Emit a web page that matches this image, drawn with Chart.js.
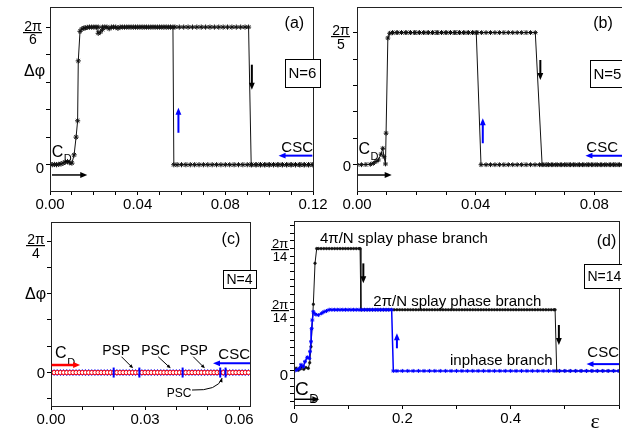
<!DOCTYPE html>
<html>
<head>
<meta charset="utf-8">
<title>Δφ versus ε for N = 6, 5, 4, 14</title>
<script src="https://cdn.jsdelivr.net/npm/chart.js@4.4.1/dist/chart.umd.min.js"></script>
<style>
  html, body { margin: 0; padding: 0; background: #fff; }
  body { width: 622px; height: 429px; overflow: hidden; position: relative; }
  canvas { position: absolute; left: 0; top: 0; }
</style>
</head>
<body>
<canvas id="panelA" width="640" height="429"></canvas>
<canvas id="panelB" width="640" height="429"></canvas>
<canvas id="panelC" width="640" height="429"></canvas>
<canvas id="panelD" width="640" height="429"></canvas>
<script>
// ---------- (a) N = 6 : forward sweep (increasing ε) ----------
const epsA_fwd = [
  0, 0.001, 0.002, 0.003, 0.004, 0.005, 0.006, 0.007, 0.008, 0.009, 0.010,
  0.011, 0.0119, 0.0126, 0.0129, 0.0137, 0.0145, 0.0155, 0.017, 0.019, 0.021,
  0.022, 0.023, 0.024, 0.025, 0.027, 0.029, 0.031, 0.033,
  0.035, 0.037, 0.039, 0.041, 0.043, 0.045, 0.047, 0.049, 0.051, 0.053,
  0.055, 0.057, 0.059, 0.061, 0.063, 0.065, 0.067, 0.069, 0.071, 0.073,
  0.075, 0.077, 0.079, 0.081, 0.083, 0.085, 0.087, 0.089, 0.0906,
  0.0918, 0.094, 0.096, 0.098, 0.100, 0.102, 0.104, 0.106, 0.108, 0.110,
  0.112, 0.114, 0.116, 0.118, 0.120
];
const phiA_fwd = [
  0.004, 0, 0.002, 0, 0.003, 0.006, 0.012, 0.020, 0.024, 0.015, 0.012,
  0.075, 0.21, 0.334, 0.79, 1.015, 1.032, 1.040, 1.045, 1.047, 1.047,
  1.000, 1.010, 1.030, 1.047, 1.035, 1.047, 1.038, 1.047,
  1.047, 1.047, 1.047, 1.047, 1.047, 1.047, 1.047, 1.047, 1.047, 1.047,
  1.047, 1.047, 1.047, 1.047, 1.047, 1.047, 1.047, 1.047, 1.047, 1.047,
  1.047, 1.047, 1.047, 1.047, 1.047, 1.047, 1.047, 1.047, 1.047,
  0, 0, 0, 0, 0, 0, 0, 0, 0, 0,
  0, 0, 0, 0, 0
];
// (a) backward sweep (decreasing ε)
const epsA_bwd = [
  0.120, 0.118, 0.116, 0.114, 0.112, 0.110, 0.108, 0.106, 0.104, 0.102,
  0.100, 0.098, 0.096, 0.094, 0.092, 0.090, 0.088, 0.086, 0.084, 0.082,
  0.080, 0.078, 0.076, 0.074, 0.072, 0.070, 0.068, 0.066, 0.064, 0.062,
  0.060, 0.058, 0.0565,
  0.0561, 0.054, 0.052, 0.050, 0.048, 0.046, 0.044, 0.042, 0.040, 0.038,
  0.036, 0.034, 0.032, 0.030, 0.028, 0.026, 0.024, 0.022, 0.020, 0.018, 0.016
];
const phiA_bwd = [
  0, 0, 0, 0, 0, 0, 0, 0, 0, 0,
  0, 0, 0, 0, 0, 0, 0, 0, 0, 0,
  0, 0, 0, 0, 0, 0, 0, 0, 0, 0,
  0, 0, 0,
  1.047, 1.047, 1.047, 1.047, 1.047, 1.047, 1.047, 1.047, 1.047, 1.047,
  1.047, 1.047, 1.047, 1.047, 1.047, 1.047, 1.047, 1.047, 1.047, 1.047, 1.040
];

// ---------- (b) N = 5 ----------
const epsB_fwd = [
  0, 0.0015, 0.003, 0.0045, 0.0055, 0.0064, 0.0072, 0.0081, 0.0087, 0.0091,
  0.0096, 0.0098, 0.0104, 0.011, 0.012, 0.0135,
  0.015, 0.0165, 0.018, 0.0195, 0.021, 0.0225, 0.024, 0.0255, 0.027, 0.0285,
  0.030, 0.0315, 0.033, 0.0345, 0.036, 0.0375, 0.039, 0.0405, 0.042, 0.0435,
  0.045, 0.0465, 0.048, 0.0495, 0.051, 0.0525, 0.054, 0.0555, 0.057, 0.0585, 0.0601,
  0.0624, 0.064, 0.0655, 0.067, 0.0685, 0.070, 0.0715, 0.073, 0.0745, 0.076,
  0.0775, 0.079, 0.0805, 0.082, 0.0835, 0.085, 0.0865, 0.088, 0.0895, 0.090
];
const phiB_fwd = [
  0, 0, 0.002, 0.004, 0.013, 0.030, 0.045, 0.100, 0.156, 0.076,
  0.007, 0.30, 1.205, 1.250, 1.255, 1.2566,
  1.2566, 1.2566, 1.2566, 1.2566, 1.2566, 1.2566, 1.2566, 1.2566, 1.2566, 1.2566,
  1.2566, 1.2566, 1.2566, 1.2566, 1.2566, 1.2566, 1.2566, 1.2566, 1.2566, 1.2566,
  1.2566, 1.2566, 1.2566, 1.2566, 1.2566, 1.2566, 1.2566, 1.2566, 1.2566, 1.2566, 1.2566,
  0, 0, 0, 0, 0, 0, 0, 0, 0, 0,
  0, 0, 0, 0, 0, 0, 0, 0, 0, 0
];
const epsB_bwd = [
  0.090, 0.0885, 0.087, 0.0855, 0.084, 0.0825, 0.081, 0.0795, 0.078, 0.0765,
  0.075, 0.0735, 0.072, 0.0705, 0.069, 0.0675, 0.066, 0.0645, 0.063, 0.0615,
  0.060, 0.0585, 0.057, 0.0555, 0.054, 0.0525, 0.051, 0.0495, 0.048, 0.0465,
  0.045, 0.0435, 0.0418,
  0.0402, 0.039, 0.0375, 0.036, 0.0345, 0.033, 0.0315, 0.030, 0.0285, 0.027,
  0.0255, 0.024, 0.0225, 0.021, 0.0195, 0.018, 0.0165, 0.015, 0.0135, 0.012
];
const phiB_bwd = [
  0, 0, 0, 0, 0, 0, 0, 0, 0, 0,
  0, 0, 0, 0, 0, 0, 0, 0, 0, 0,
  0, 0, 0, 0, 0, 0, 0, 0, 0, 0,
  0, 0, 0,
  1.2566, 1.2566, 1.2566, 1.2566, 1.2566, 1.2566, 1.2566, 1.2566, 1.2566, 1.2566,
  1.2566, 1.2566, 1.2566, 1.2566, 1.2566, 1.2566, 1.2566, 1.2566, 1.2566, 1.2566
];

// ---------- (c) N = 4 : both sweeps stay on Δφ = 0 ----------
const epsC = [
  0.000, 0.001, 0.002, 0.003, 0.004, 0.005, 0.006, 0.007, 0.008, 0.009,
  0.010, 0.011, 0.012, 0.013, 0.014, 0.015, 0.016, 0.017, 0.018, 0.019,
  0.020, 0.021, 0.022, 0.023, 0.024, 0.025, 0.026, 0.027, 0.028, 0.029,
  0.030, 0.031, 0.032, 0.033, 0.034, 0.035, 0.036, 0.037, 0.038, 0.039,
  0.040, 0.041, 0.042, 0.043, 0.044, 0.045, 0.046, 0.047, 0.048, 0.049,
  0.050, 0.051, 0.052, 0.053, 0.054, 0.055, 0.056, 0.057, 0.058, 0.059,
  0.060, 0.061, 0.062, 0.063
];
const phiC_fwd = [
  0, 0, 0, 0, 0, 0, 0, 0, 0, 0,
  0, 0, 0, 0, 0, 0, 0, 0, 0, 0,
  0, 0, 0, 0, 0, 0, 0, 0, 0, 0,
  0, 0, 0, 0, 0, 0, 0, 0, 0, 0,
  0, 0, 0, 0, 0, 0, 0, 0, 0, 0,
  0, 0, 0, 0, 0, 0, 0, 0, 0, 0,
  0, 0, 0, 0
];
const phiC_bwd = [
  0, 0, 0, 0, 0, 0, 0, 0, 0, 0,
  0, 0, 0, 0, 0, 0, 0, 0, 0, 0,
  0, 0, 0, 0, 0, 0, 0, 0, 0, 0,
  0, 0, 0, 0, 0, 0, 0, 0, 0, 0,
  0, 0, 0, 0, 0, 0, 0, 0, 0, 0,
  0, 0, 0, 0, 0, 0, 0, 0, 0, 0,
  0, 0, 0, 0
];
// boundaries between the PSP / PSC / CSC regimes
const epsC_marks = [0.020, 0.0282, 0.042, 0.054, 0.0557];
const phiC_marks = [0, 0, 0, 0, 0];

// ---------- (d) N = 14 ----------
const epsD_fwd = [
  0, 0.004, 0.008, 0.012, 0.0142, 0.018, 0.022, 0.0264, 0.029, 0.0314, 0.0357, 0.0388,
  0.0419, 0.045, 0.050, 0.055, 0.060, 0.065, 0.070, 0.075, 0.080, 0.085,
  0.090, 0.095, 0.100, 0.105, 0.110, 0.115, 0.120, 0.122,
  0.1235,
  0.125, 0.130, 0.135, 0.140, 0.145, 0.150, 0.155, 0.160, 0.165, 0.170,
  0.175, 0.180, 0.185, 0.190, 0.195, 0.200, 0.205, 0.210, 0.215, 0.220,
  0.225, 0.230, 0.235, 0.240, 0.245, 0.250, 0.255, 0.260, 0.265, 0.270,
  0.275, 0.280, 0.285, 0.290, 0.295, 0.300, 0.305, 0.310, 0.315, 0.320,
  0.325, 0.330, 0.335, 0.340, 0.345, 0.350, 0.355, 0.360, 0.365, 0.370,
  0.375, 0.380, 0.385, 0.390, 0.395, 0.400, 0.405, 0.410, 0.415, 0.420,
  0.425, 0.430, 0.435, 0.440, 0.445, 0.450, 0.455, 0.460, 0.465, 0.470,
  0.475, 0.480, 0.482,
  0.485, 0.490, 0.500, 0.510, 0.520, 0.530, 0.540, 0.550, 0.560, 0.570,
  0.580, 0.590, 0.600
];
const phiD_fwd = [
  0.010, 0.020, 0.005, 0.015, 0.031, 0.012, 0.025, 0.019, 0.060, 0.178, 0.489, 0.790,
  0.8976, 0.8976, 0.8976, 0.8976, 0.8976, 0.8976, 0.8976, 0.8976, 0.8976, 0.8976,
  0.8976, 0.8976, 0.8976, 0.8976, 0.8976, 0.8976, 0.8976, 0.8976,
  0.4488,
  0.4488, 0.4488, 0.4488, 0.4488, 0.4488, 0.4488, 0.4488, 0.4488, 0.4488, 0.4488,
  0.4488, 0.4488, 0.4488, 0.4488, 0.4488, 0.4488, 0.4488, 0.4488, 0.4488, 0.4488,
  0.4488, 0.4488, 0.4488, 0.4488, 0.4488, 0.4488, 0.4488, 0.4488, 0.4488, 0.4488,
  0.4488, 0.4488, 0.4488, 0.4488, 0.4488, 0.4488, 0.4488, 0.4488, 0.4488, 0.4488,
  0.4488, 0.4488, 0.4488, 0.4488, 0.4488, 0.4488, 0.4488, 0.4488, 0.4488, 0.4488,
  0.4488, 0.4488, 0.4488, 0.4488, 0.4488, 0.4488, 0.4488, 0.4488, 0.4488, 0.4488,
  0.4488, 0.4488, 0.4488, 0.4488, 0.4488, 0.4488, 0.4488, 0.4488, 0.4488, 0.4488,
  0.4488, 0.4488, 0.4488,
  0, 0, 0, 0, 0, 0, 0, 0, 0, 0,
  0, 0, 0
];
const epsD_bwd = [
  0.600, 0.590, 0.580, 0.570, 0.560, 0.550, 0.540, 0.530, 0.520, 0.510,
  0.500, 0.490, 0.480, 0.470, 0.460, 0.450, 0.440, 0.430, 0.420, 0.410,
  0.400, 0.390, 0.380, 0.370, 0.360, 0.350, 0.340, 0.330, 0.320, 0.310,
  0.300, 0.290, 0.280, 0.270, 0.260, 0.250, 0.240, 0.230, 0.220, 0.210,
  0.200, 0.190, 0.1834,
  0.1803, 0.175, 0.170, 0.165, 0.160, 0.155, 0.150, 0.145, 0.140, 0.135,
  0.130, 0.125, 0.120, 0.115, 0.110, 0.105, 0.100, 0.095, 0.090, 0.085,
  0.080, 0.075, 0.070, 0.065,
  0.060, 0.0554, 0.051, 0.0449, 0.040, 0.0357, 0.0338, 0.0326, 0.0314, 0.0296,
  0.0283, 0.0245, 0.0203, 0.0172, 0.013, 0.010, 0.005, 0
];
const phiD_bwd = [
  0, 0, 0, 0, 0, 0, 0, 0, 0, 0,
  0, 0, 0, 0, 0, 0, 0, 0, 0, 0,
  0, 0, 0, 0, 0, 0, 0, 0, 0, 0,
  0, 0, 0, 0, 0, 0, 0, 0, 0, 0,
  0, 0, 0,
  0.4488, 0.4488, 0.4488, 0.4488, 0.4488, 0.4488, 0.4488, 0.4488, 0.4488, 0.4488,
  0.4488, 0.4488, 0.4488, 0.4488, 0.4488, 0.4488, 0.4488, 0.4488, 0.4488, 0.4488,
  0.4488, 0.4488, 0.4488, 0.4488,
  0.440, 0.434, 0.423, 0.410, 0.415, 0.434, 0.373, 0.310, 0.214, 0.141,
  0.092, 0.100, 0.068, 0.031, 0.045, 0.020, 0.007, 0
];

// ---------- axis tick labels ----------
const xTickValsA = [0, 0.04, 0.08, 0.12];
const xTickTextA = ['0.00', '0.04', '0.08', '0.12'];
const xTickValsB = [0, 0.04, 0.08];
const xTickTextB = ['0.00', '0.04', '0.08'];
const xTickValsC = [0, 0.03, 0.06];
const xTickTextC = ['0.00', '0.03', '0.06'];
const xTickValsD = [0, 0.2, 0.4];
const xTickTextD = ['0', '0.2', '0.4'];

// ---------- drawing ----------
const TWO_PI = 2 * Math.PI;
const FONT = "'Liberation Sans', Arial, Helvetica, sans-serif";
const SERIF = "'Liberation Serif', 'Times New Roman', serif";
const BLUE = '#0000ff', RED = '#ff0000', INK = '#000000';
const W = 640, H = 429;
const X_LABEL_BAND = 22;   // height reserved under each plot for the ε tick labels
Chart.defaults.font.family = FONT;

function pairUp(xs, ys) { return xs.map((x, i) => ({ x: x, y: ys[i] })); }

function stepTicks(lo, hi, step) {
  const out = [];
  for (let k = Math.ceil(lo / step - 1e-9); k * step <= hi + 1e-9; k++) out.push(k * step);
  return out;
}

function labelAt(vals, texts) {
  return v => {
    const i = vals.findIndex(t => Math.abs(t - v) < 1e-9);
    return i < 0 ? '' : texts[i];
  };
}

function drawArrow(ctx, x1, y1, x2, y2, color, width, head) {
  const ang = Math.atan2(y2 - y1, x2 - x1);
  const hl = head || 7, hw = hl * 0.42;
  const c = Math.cos(ang), s = Math.sin(ang);
  ctx.save();
  ctx.strokeStyle = color; ctx.fillStyle = color; ctx.lineWidth = width;
  ctx.beginPath();
  ctx.moveTo(x1, y1);
  ctx.lineTo(x2 - c * hl * 0.7, y2 - s * hl * 0.7);
  ctx.stroke();
  ctx.beginPath();
  ctx.moveTo(x2, y2);
  ctx.lineTo(x2 - c * hl - s * hw, y2 - s * hl + c * hw);
  ctx.lineTo(x2 - c * hl + s * hw, y2 - s * hl - c * hw);
  ctx.closePath();
  ctx.fill();
  ctx.restore();
}

function notesPlugin(notes) {
  return {
    id: 'panelNotes',
    afterDraw(chart) {
      const ctx = chart.ctx, a = chart.chartArea;
      const px = v => chart.scales.x.getPixelForValue(v);
      const py = v => chart.scales.y.getPixelForValue(v);
      ctx.save();
      // plot frame
      ctx.strokeStyle = '#222'; ctx.lineWidth = 1;
      ctx.strokeRect(Math.round(a.left) + 0.5, Math.round(a.top) + 0.5,
                     Math.round(a.right - a.left), Math.round(a.bottom - a.top));
      for (const n of notes) {
        ctx.fillStyle = n.color || INK;
        ctx.strokeStyle = n.color || INK;
        if (n.kind === 'text') {
          ctx.font = n.size + 'px ' + (n.family || FONT);
          ctx.textAlign = n.align || 'left';
          ctx.textBaseline = 'alphabetic';
          ctx.fillText(n.s, px(n.x), py(n.y));
        } else if (n.kind === 'cd') {
          ctx.font = n.size + 'px ' + FONT;
          ctx.textAlign = 'left'; ctx.textBaseline = 'alphabetic';
          const x0 = px(n.x);
          ctx.fillText('C', x0, py(n.y));
          const w = ctx.measureText('C').width;
          ctx.font = Math.round(n.size * 0.7) + 'px ' + FONT;
          ctx.fillText('D', x0 + w + 0.5, py(n.ySub));
        } else if (n.kind === 'arrow') {
          drawArrow(ctx, px(n.x1), py(n.y1), px(n.x2), py(n.y2), n.color || INK, n.w || 1.5, n.head);
        } else if (n.kind === 'box') {
          ctx.font = n.size + 'px ' + FONT;
          const tw = ctx.measureText(n.s).width;
          const l = Math.round(px(n.x)), t = Math.round(py(n.yTop)), b = Math.round(py(n.yBot));
          const bw = Math.round(tw + 7);
          ctx.fillStyle = '#fff';
          ctx.fillRect(l, t, bw, b - t);
          ctx.strokeStyle = INK; ctx.lineWidth = 1;
          ctx.strokeRect(l + 0.5, t + 0.5, bw, b - t);
          ctx.fillStyle = INK;
          ctx.textAlign = 'left'; ctx.textBaseline = 'middle';
          ctx.fillText(n.s, l + 3.5, (t + b) / 2 + 1);
        } else if (n.kind === 'curve') {
          ctx.lineWidth = 1;
          ctx.beginPath();
          ctx.moveTo(px(n.x0), py(n.y0));
          ctx.quadraticCurveTo(px(n.cx), py(n.cy), px(n.x1), py(n.y1));
          ctx.stroke();
          drawArrow(ctx, px(n.cx) + 0.8 * (px(n.x1) - px(n.cx)), py(n.cy) + 0.8 * (py(n.y1) - py(n.cy)),
                    px(n.x1), py(n.y1), INK, 1, 4);
        } else if (n.kind === 'frac') {
          const cx = a.left - n.dx, y = py(n.v) + n.off;
          ctx.font = n.size + 'px ' + FONT;
          ctx.textAlign = 'center';
          ctx.textBaseline = 'alphabetic';
          ctx.fillText(n.num, cx, y - 1.2);
          const w = ctx.measureText(n.num).width + 2;
          ctx.fillRect(Math.round(cx - w / 2), Math.round(y - 0.5), Math.round(w), 1.2);
          ctx.textBaseline = 'top';
          ctx.fillText(n.den, cx, y + 1.5);
        } else if (n.kind === 'ylab') {
          ctx.font = n.size + 'px ' + FONT;
          ctx.textAlign = 'right'; ctx.textBaseline = 'middle';
          ctx.fillText(n.s, a.left - 6, py(n.v) + n.dy);
        } else if (n.kind === 'title') {
          ctx.font = n.size + 'px ' + FONT;
          ctx.textAlign = 'right'; ctx.textBaseline = 'middle';
          ctx.fillText(n.s, a.left - 5, py(n.v));
        }
      }
      ctx.restore();
    }
  };
}

function buildPanel(id, p) {
  return new Chart(document.getElementById(id), {
    type: 'scatter',
    data: { datasets: p.datasets },
    options: {
      responsive: false,
      animation: false,
      events: [],
      layout: { padding: { left: p.rect.l, top: p.rect.t, right: W - p.rect.r, bottom: H - p.rect.b - X_LABEL_BAND } },
      plugins: { legend: { display: false }, tooltip: { enabled: false } },
      scales: {
        x: {
          type: 'linear', min: p.xRange[0], max: p.xRange[1],
          afterFit: s => { s.height = X_LABEL_BAND; },
          afterBuildTicks: s => { s.ticks = stepTicks(p.xRange[0], p.xRange[1], p.xStep).map(v => ({ value: v })); },
          ticks: {
            autoSkip: false, maxRotation: 0, minRotation: 0, padding: 1,
            color: INK, font: { size: 15, family: FONT },
            callback: labelAt(p.xTickVals, p.xTickText)
          },
          grid: { drawOnChartArea: false, drawTicks: true, tickLength: 4, color: INK, lineWidth: 1 },
          border: { display: false }
        },
        y: {
          type: 'linear', min: p.yRange[0], max: p.yRange[1],
          afterFit: s => { s.width = 0; },
          afterBuildTicks: s => { s.ticks = stepTicks(p.yRange[0], p.yRange[1], p.yStep).map(v => ({ value: v })); },
          ticks: { display: false },
          grid: { drawOnChartArea: false, drawTicks: true, tickLength: 4, color: INK, lineWidth: 1 },
          border: { display: false }
        }
      }
    },
    plugins: [notesPlugin(p.notes)]
  });
}

function starSeries(xs, ys, color, radius) {
  return {
    data: pairUp(xs, ys), showLine: true, tension: 0,
    borderColor: color, borderWidth: 1,
    pointStyle: 'star', pointRadius: radius, pointBorderColor: color,
    pointBackgroundColor: color, pointBorderWidth: 1
  };
}

// (a) N = 6
buildPanel('panelA', {
  rect: { l: 50, t: 7, r: 313, b: 191 },
  xRange: [0, 0.12], xStep: 0.01, xTickVals: xTickValsA, xTickText: xTickTextA,
  yRange: [-0.2, 1.2], yStep: TWO_PI / 30,
  datasets: [
    starSeries(epsA_fwd, phiA_fwd, '#111', 2.6),
    starSeries(epsA_bwd, phiA_bwd, '#111', 2.6)
  ],
  notes: [
    { kind: 'frac', v: TWO_PI / 6, num: '2π', den: '6', size: 14, off: 5, dx: 17 },
    { kind: 'ylab', v: 0, s: '0', size: 15, dy: 4 },
    { kind: 'title', v: 0.71, s: 'Δφ', size: 16 },
    { kind: 'text', x: 0.1115, y: 1.04, s: '(a)', size: 16, align: 'center' },
    { kind: 'box', x: 0.1074, yTop: 0.805, yBot: 0.591, s: 'N=6', size: 15 },
    { kind: 'text', x: 0.12, y: 0.098, s: 'CSC', size: 15, align: 'right' },
    { kind: 'cd', x: 0.0008, y: 0.06, ySub: 0.018, size: 16 },
    { kind: 'arrow', x1: 0.0009, y1: -0.078, x2: 0.017, y2: -0.078, w: 1.5 },
    { kind: 'arrow', x1: 0.1197, y1: 0.069, x2: 0.1043, y2: 0.069, color: BLUE, w: 2 },
    { kind: 'arrow', x1: 0.0921, y1: 0.761, x2: 0.0921, y2: 0.571, w: 2 },
    { kind: 'arrow', x1: 0.0586, y1: 0.243, x2: 0.0586, y2: 0.433, color: BLUE, w: 2 }
  ]
});

// (b) N = 5
buildPanel('panelB', {
  rect: { l: 357, t: 7, r: 624, b: 191 },
  xRange: [0, 0.09], xStep: 0.01, xTickVals: xTickValsB, xTickText: xTickTextB,
  yRange: [-0.25, 1.5], yStep: TWO_PI / 25,
  datasets: [
    starSeries(epsB_fwd, phiB_fwd, '#111', 2.4),
    starSeries(epsB_bwd, phiB_bwd, '#111', 2.4)
  ],
  notes: [
    { kind: 'frac', v: TWO_PI / 5, num: '2π', den: '5', size: 14, off: 4, dx: 16 },
    { kind: 'ylab', v: 0, s: '0', size: 15, dy: 2 },
    { kind: 'text', x: 0.0829, y: 1.296, s: '(b)', size: 16, align: 'center' },
    { kind: 'box', x: 0.0784, yTop: 0.996, yBot: 0.736, s: 'N=5', size: 15 },
    { kind: 'text', x: 0.0773, y: 0.124, s: 'CSC', size: 15, align: 'left' },
    { kind: 'cd', x: 0.0005, y: 0.102, ySub: 0.049, size: 16 },
    { kind: 'arrow', x1: 0.0003, y1: -0.098, x2: 0.0117, y2: -0.098, w: 1.5 },
    { kind: 'arrow', x1: 0.09, y1: 0.086, x2: 0.077, y2: 0.086, color: BLUE, w: 2 },
    { kind: 'arrow', x1: 0.0618, y1: 0.996, x2: 0.0618, y2: 0.806, w: 2 },
    { kind: 'arrow', x1: 0.0424, y1: 0.204, x2: 0.0424, y2: 0.441, color: BLUE, w: 2 }
  ]
});

// (c) N = 4
buildPanel('panelC', {
  rect: { l: 51, t: 222, r: 250, b: 406 },
  xRange: [0, 0.0635], xStep: 0.01, xTickVals: xTickValsC, xTickText: xTickTextC,
  yRange: [-0.4, 1.8], yStep: TWO_PI / 20,
  datasets: [
    {
      data: pairUp(epsC_marks, phiC_marks), showLine: false,
      pointStyle: 'line', pointRotation: 90, pointRadius: 5,
      pointBorderColor: BLUE, pointBorderWidth: 2
    },
    {
      data: pairUp(epsC, phiC_fwd), showLine: false,
      pointStyle: 'circle', pointRadius: 2.1, pointBorderColor: RED,
      pointBackgroundColor: '#ffffff', pointBorderWidth: 1
    },
    {
      data: pairUp(epsC, phiC_bwd), showLine: false,
      pointStyle: 'star', pointRadius: 3.2, pointBorderColor: BLUE, pointBorderWidth: 1
    }
  ],
  notes: [
    { kind: 'frac', v: TWO_PI / 4, num: '2π', den: '4', size: 14, off: 4, dx: 15 },
    { kind: 'ylab', v: 0, s: '0', size: 15, dy: 1 },
    { kind: 'title', v: 0.927, s: 'Δφ', size: 16 },
    { kind: 'text', x: 0.0574, y: 1.537, s: '(c)', size: 16, align: 'center' },
    { kind: 'box', x: 0.0548, yTop: 1.226, yBot: 1.007, s: 'N=4', size: 14 },
    { kind: 'text', x: 0.0635, y: 0.161, s: 'CSC', size: 15, align: 'right' },
    { kind: 'cd', x: 0.0013, y: 0.173, ySub: 0.078, size: 16 },
    { kind: 'text', x: 0.0208, y: 0.21, s: 'PSP', size: 14, align: 'center' },
    { kind: 'text', x: 0.0334, y: 0.21, s: 'PSC', size: 14, align: 'center' },
    { kind: 'text', x: 0.0456, y: 0.21, s: 'PSP', size: 14, align: 'center' },
    { kind: 'text', x: 0.0409, y: -0.29, s: 'PSC', size: 12, align: 'center' },
    { kind: 'arrow', x1: 0.0002, y1: 0.09, x2: 0.0093, y2: 0.09, color: RED, w: 2.5 },
    { kind: 'arrow', x1: 0.0635, y1: 0.11, x2: 0.0517, y2: 0.11, color: BLUE, w: 2 },
    { kind: 'arrow', x1: 0.0225, y1: 0.189, x2: 0.0262, y2: 0.05, w: 1, head: 4 },
    { kind: 'arrow', x1: 0.0342, y1: 0.189, x2: 0.0382, y2: 0.05, w: 1, head: 4 },
    { kind: 'arrow', x1: 0.0454, y1: 0.189, x2: 0.0491, y2: 0.05, w: 1, head: 4 },
    { kind: 'curve', x0: 0.045, y0: -0.209, cx: 0.0533, cy: -0.221, x1: 0.0546, y1: -0.066 }
  ]
});

// (d) N = 14
buildPanel('panelD', {
  rect: { l: 294, t: 221, r: 619, b: 405 },
  xRange: [0, 0.6], xStep: 0.1, xTickVals: xTickValsD, xTickText: xTickTextD,
  yRange: [-0.25, 1.1], yStep: TWO_PI / 112,
  datasets: [
    {
      data: pairUp(epsD_bwd, phiD_bwd), showLine: true, tension: 0,
      borderColor: BLUE, borderWidth: 1.5,
      pointStyle: 'star', pointRadius: 2, pointBorderColor: BLUE,
      pointBackgroundColor: BLUE, pointBorderWidth: 1
    },
    {
      data: pairUp(epsD_fwd, phiD_fwd), showLine: true, tension: 0,
      borderColor: '#111', borderWidth: 1,
      pointStyle: 'circle', pointRadius: 1.3, pointBorderColor: '#111',
      pointBackgroundColor: '#111', pointBorderWidth: 0.5
    }
  ],
  notes: [
    { kind: 'frac', v: 2 * TWO_PI / 14, num: '2π', den: '14', size: 13, off: 0.5, dx: 14 },
    { kind: 'frac', v: TWO_PI / 14, num: '2π', den: '14', size: 13, off: 0.5, dx: 14 },
    { kind: 'ylab', v: 0, s: '0', size: 15, dy: 5 },
    { kind: 'text', x: 0.048, y: 0.938, s: '4π/N splay phase branch', size: 15, align: 'left' },
    { kind: 'text', x: 0.1464, y: 0.48, s: '2π/N splay phase branch', size: 15, align: 'left' },
    { kind: 'text', x: 0.288, y: 0.043, s: 'inphase branch', size: 15, align: 'left' },
    { kind: 'text', x: 0.6, y: 0.104, s: 'CSC', size: 15, align: 'right' },
    { kind: 'text', x: 0.577, y: 0.916, s: '(d)', size: 16, align: 'center' },
    { kind: 'box', x: 0.536, yTop: 0.782, yBot: 0.61, s: 'N=14', size: 14 },
    { kind: 'cd', x: 0.002, y: -0.177, ySub: -0.235, size: 19 },
    { kind: 'text', x: 0.556, y: -0.419, s: 'ε', size: 22, align: 'center', family: SERIF },
    { kind: 'arrow', x1: 0, y1: -0.208, x2: 0.0467, y2: -0.208, w: 1.5 },
    { kind: 'arrow', x1: 0.6, y1: 0.05, x2: 0.54, y2: 0.05, color: BLUE, w: 2 },
    { kind: 'arrow', x1: 0.128, y1: 0.789, x2: 0.128, y2: 0.643, w: 2 },
    { kind: 'arrow', x1: 0.489, y1: 0.337, x2: 0.489, y2: 0.19, w: 2 },
    { kind: 'arrow', x1: 0.19, y1: 0.166, x2: 0.19, y2: 0.276, color: BLUE, w: 2 }
  ]
});
</script>
</body>
</html>
